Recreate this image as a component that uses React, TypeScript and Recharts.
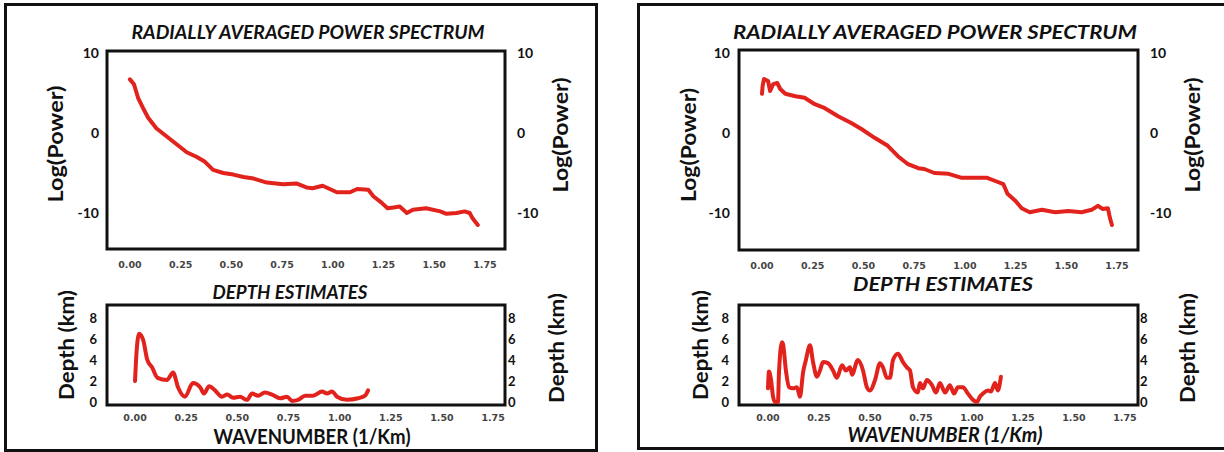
import React from "react";
import { LineChart, Line, XAxis, YAxis, ReferenceArea } from "recharts";

// wavenumber ticks shared by every panel
const kTicks = [0, 0.25, 0.5, 0.75, 1, 1.25, 1.5, 1.75];
const powerTicks = [-10, 0, 10];
const depthTicks = [0, 2, 4, 6, 8];

// left panel, power spectrum
const leftSpecK = [0, 0.02, 0.04, 0.065, 0.09, 0.13, 0.18, 0.23, 0.28, 0.33, 0.37, 0.41, 0.46, 0.51, 0.56, 0.61, 0.675, 0.72, 0.755, 0.82, 0.87, 0.9, 0.95, 1.02, 1.085, 1.12, 1.175, 1.2, 1.24, 1.27, 1.3, 1.33, 1.365, 1.395, 1.46, 1.53, 1.56, 1.61, 1.65, 1.675, 1.69, 1.715];
const leftSpecPower = [6.7, 6.1, 4.4, 3.1, 1.9, 0.6, -0.4, -1.4, -2.4, -3.0, -3.6, -4.6, -5.0, -5.2, -5.5, -5.7, -6.2, -6.3, -6.4, -6.3, -6.8, -6.9, -6.6, -7.4, -7.4, -7.0, -7.1, -7.9, -8.7, -9.4, -9.3, -9.2, -10.0, -9.6, -9.4, -9.8, -10.1, -10.0, -9.8, -10.0, -10.7, -11.5];

// left panel, depth estimates
const leftDepthK = [0, 0.005, 0.02, 0.04, 0.06, 0.083, 0.11, 0.156, 0.186, 0.21, 0.244, 0.283, 0.318, 0.337, 0.362, 0.391, 0.425, 0.45, 0.479, 0.513, 0.547, 0.572, 0.601, 0.635, 0.67, 0.709, 0.743, 0.767, 0.797, 0.831, 0.87, 0.914, 0.938, 0.963, 0.987, 1.036, 1.09, 1.124, 1.139];
const leftDepthKm = [2.0, 4.0, 6.5, 5.9, 4.0, 3.3, 2.3, 2.1, 2.8, 1.4, 0.5, 1.8, 1.4, 0.8, 1.5, 1.1, 0.5, 0.7, 0.4, 0.5, 0.2, 0.8, 0.6, 0.9, 0.7, 0.35, 0.5, 0.1, 0.2, 0.6, 0.6, 1.0, 0.8, 1.0, 0.5, 0.2, 0.35, 0.6, 1.1];

// right panel, power spectrum
const rightSpecK = [0, 0.003, 0.01, 0.03, 0.04, 0.055, 0.075, 0.09, 0.115, 0.165, 0.21, 0.26, 0.31, 0.375, 0.44, 0.49, 0.555, 0.62, 0.67, 0.72, 0.77, 0.8, 0.85, 0.92, 0.985, 1.05, 1.11, 1.15, 1.19, 1.21, 1.25, 1.28, 1.32, 1.38, 1.445, 1.51, 1.575, 1.625, 1.655, 1.68, 1.705, 1.715, 1.725];
const rightSpecPower = [4.9, 5.9, 6.75, 6.5, 5.25, 6.1, 6.25, 5.5, 4.9, 4.6, 4.4, 3.6, 3.1, 2.1, 1.25, 0.5, -0.6, -1.6, -2.9, -3.9, -4.4, -4.5, -5.0, -5.1, -5.6, -5.6, -5.6, -6.0, -6.4, -7.6, -8.5, -9.4, -9.9, -9.6, -9.9, -9.75, -9.9, -9.6, -9.1, -9.5, -9.4, -10.6, -11.5];

// right panel, depth estimates
const rightDepthK = [0, 0.005, 0.015, 0.025, 0.034, 0.049, 0.054, 0.069, 0.074, 0.088, 0.103, 0.123, 0.142, 0.157, 0.172, 0.186, 0.206, 0.221, 0.24, 0.255, 0.27, 0.294, 0.319, 0.338, 0.363, 0.382, 0.402, 0.412, 0.441, 0.466, 0.485, 0.5, 0.525, 0.549, 0.564, 0.583, 0.598, 0.613, 0.637, 0.662, 0.681, 0.696, 0.711, 0.735, 0.745, 0.76, 0.779, 0.804, 0.824, 0.843, 0.868, 0.892, 0.912, 0.931, 0.956, 0.98, 1.005, 1.025, 1.039, 1.054, 1.078, 1.093, 1.113, 1.127, 1.142];
const rightDepthKm = [1.3, 2.9, 2.1, 0.5, 0, 0, 2.8, 5.7, 5.5, 3.0, 1.4, 1.3, 1.4, 0.5, 2.8, 4.0, 5.4, 3.8, 2.4, 3.0, 3.8, 3.7, 3.0, 2.3, 3.5, 3.0, 3.3, 2.6, 4.0, 3.0, 1.4, 1.1, 2.1, 3.7, 3.3, 2.3, 2.3, 4.0, 4.6, 3.8, 3.3, 3.0, 1.4, 0.9, 1.8, 1.3, 2.1, 1.6, 0.9, 1.8, 0.9, 1.6, 0.8, 1.4, 1.4, 0.8, 0.2, 0, 0.5, 0.8, 1.1, 1.0, 1.8, 1.1, 2.4];

const RED = "#e2231d";
const INK = "#111";
const LABEL_FONT = "Lato, 'Open Sans', sans-serif";

type ChartProps = {
  left: number;
  top: number;
  width: number;
  height: number;
  margin: { top: number; right: number; bottom: number; left: number };
  k: number[];
  vals: number[];
  xDomain: [number, number];
  yDomain: [number, number];
  yTicks: number[];
  yFont: number;
  leftTickGap: number;
  rightTickGap: number;
  xTickGap: number;
  curve: "linear" | "monotone";
};

function FramedLine(p: ChartProps) {
  const rows = p.k.map((x, i) => ({ k: x, v: p.vals[i] }));
  const yTick = { fontFamily: LABEL_FONT, fontWeight: 700, fontSize: p.yFont, fill: INK };
  return (
    <div style={{ position: "absolute", left: p.left, top: p.top }}>
      <LineChart width={p.width} height={p.height} data={rows} margin={p.margin}>
        <XAxis
          dataKey="k"
          type="number"
          domain={p.xDomain}
          ticks={kTicks}
          interval={0}
          allowDataOverflow
          height={30}
          axisLine={false}
          tickLine={false}
          tickSize={0}
          tickMargin={p.xTickGap}
          tickFormatter={(t: number) => t.toFixed(2)}
          tick={{ fontFamily: "'DejaVu Sans', sans-serif", fontWeight: 700, fontSize: 9.5, fill: "#444" }}
        />
        <YAxis
          yAxisId="l"
          type="number"
          domain={p.yDomain}
          ticks={p.yTicks}
          interval={0}
          allowDataOverflow
          width={40}
          axisLine={false}
          tickLine={false}
          tickSize={0}
          tickMargin={p.leftTickGap}
          tick={yTick}
        />
        <YAxis
          yAxisId="r"
          orientation="right"
          type="number"
          domain={p.yDomain}
          ticks={p.yTicks}
          interval={0}
          allowDataOverflow
          width={40}
          axisLine={false}
          tickLine={false}
          tickSize={0}
          tickMargin={p.rightTickGap}
          tick={{ ...yTick, textAnchor: "start" }}
        />
        <ReferenceArea
          yAxisId="l"
          x1={p.xDomain[0]}
          x2={p.xDomain[1]}
          y1={p.yDomain[0]}
          y2={p.yDomain[1]}
          fill="none"
          stroke={INK}
          strokeWidth={3}
          ifOverflow="visible"
        />
        <Line
          yAxisId="l"
          dataKey="v"
          type={p.curve}
          stroke={RED}
          strokeWidth={4}
          strokeLinejoin="round"
          strokeLinecap="round"
          dot={false}
          isAnimationActive={false}
        />
      </LineChart>
    </div>
  );
}

function Rotated({ x, y, len, text }: { x: number; y: number; len: number; text: string }) {
  return (
    <text
      x={x}
      y={y}
      transform={`rotate(-90 ${x} ${y})`}
      textAnchor="middle"
      dy="0.35em"
      fontSize={21}
      fontWeight={700}
      textLength={len}
      lengthAdjust="spacingAndGlyphs"
    >
      {text}
    </text>
  );
}

export default function App() {
  return (
    <div
      style={{
        position: "absolute",
        left: 0,
        top: 0,
        width: 1224,
        height: 452,
        overflow: "hidden",
        background: "#fff",
      }}
    >
      <div style={{ position: "absolute", left: 4, top: 3, width: 594, height: 449, border: `3px solid ${INK}`, boxSizing: "border-box" }} />
      <div style={{ position: "absolute", left: 637, top: 3, width: 620, height: 447, border: `3px solid ${INK}`, boxSizing: "border-box" }} />

      <FramedLine
        left={0} top={0} width={600} height={290}
        margin={{ top: 51, left: 67, right: 55, bottom: 11 }}
        k={leftSpecK} vals={leftSpecPower}
        xDomain={[-0.113, 1.849]} yDomain={[-14.5, 10.25]}
        yTicks={powerTicks} yFont={14}
        leftTickGap={8} rightTickGap={12} xTickGap={12}
        curve="linear"
      />
      <FramedLine
        left={0} top={290} width={600} height={162}
        margin={{ top: 15, left: 67, right: 55, bottom: 17 }}
        k={leftDepthK} vals={leftDepthKm}
        xDomain={[-0.137, 1.808]} yDomain={[-0.29, 9.24]}
        yTicks={depthTicks} yFont={13}
        leftTickGap={10} rightTickGap={3} xTickGap={9}
        curve="monotone"
      />
      <FramedLine
        left={632} top={0} width={590} height={290}
        margin={{ top: 50, left: 67, right: 44, bottom: 10 }}
        k={rightSpecK} vals={rightSpecPower}
        xDomain={[-0.1134, 1.8535]} yDomain={[-14.625, 10.375]}
        yTicks={powerTicks} yFont={14}
        leftTickGap={9} rightTickGap={12} xTickGap={12}
        curve="linear"
      />
      <FramedLine
        left={632} top={290} width={590} height={162}
        margin={{ top: 15, left: 67, right: 44, bottom: 17 }}
        k={rightDepthK} vals={rightDepthKm}
        xDomain={[-0.142, 1.814]} yDomain={[-0.29, 9.24]}
        yTicks={depthTicks} yFont={13}
        leftTickGap={10} rightTickGap={2} xTickGap={9}
        curve="monotone"
      />

      <svg
        width={1224}
        height={452}
        style={{ position: "absolute", left: 0, top: 0, pointerEvents: "none" }}
        fontFamily={LABEL_FONT}
        fill={INK}
      >
        <g fontWeight={700} fontStyle="italic" fontSize={18} textAnchor="middle">
          <text x={308} y={39} textLength={353} lengthAdjust="spacingAndGlyphs">RADIALLY AVERAGED POWER SPECTRUM</text>
          <text x={935} y={39} textLength={404} lengthAdjust="spacingAndGlyphs">RADIALLY AVERAGED POWER SPECTRUM</text>
          <text x={290} y={299} textLength={155} lengthAdjust="spacingAndGlyphs">DEPTH ESTIMATES</text>
          <text x={943} y={291} textLength={180} lengthAdjust="spacingAndGlyphs">DEPTH ESTIMATES</text>
        </g>
        <text x={312} y={444} fontSize={20} fontWeight={700} textAnchor="middle" textLength={197} lengthAdjust="spacingAndGlyphs">WAVENUMBER (1/Km)</text>
        <text x={945} y={442} fontSize={20} fontWeight={700} fontStyle="italic" textAnchor="middle" textLength={195} lengthAdjust="spacingAndGlyphs">WAVENUMBER (1/Km)</text>

        <Rotated x={56} y={144} len={117} text="Log(Power)" />
        <Rotated x={561} y={135} len={115} text="Log(Power)" />
        <Rotated x={689} y={145} len={114} text="Log(Power)" />
        <Rotated x={1193} y={135} len={115} text="Log(Power)" />

        <Rotated x={67} y={345} len={110} text="Depth (km)" />
        <Rotated x={557} y={348} len={110} text="Depth (km)" />
        <Rotated x={701} y={345} len={110} text="Depth (km)" />
        <Rotated x={1188} y={348} len={110} text="Depth (km)" />
      </svg>
    </div>
  );
}
